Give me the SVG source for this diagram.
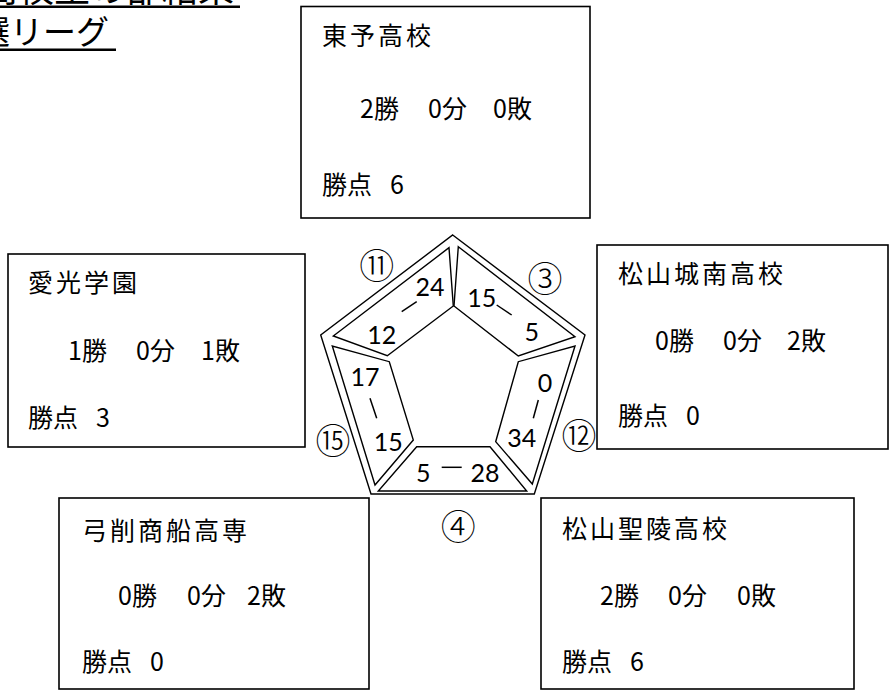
<svg xmlns="http://www.w3.org/2000/svg" width="892" height="691" viewBox="0 0 892 691">
<style>
.box{fill:#fff;stroke:#000;stroke-width:1.6}
.jp{font-family:"Noto Sans CJK JP","Noto Sans CJK SC",sans-serif;font-size:25px;fill:#000}
.name{letter-spacing:3px}
.pent{fill:none;stroke:#000;stroke-width:1.4;stroke-linejoin:miter}
.sc{font-family:Lato,"Liberation Sans",sans-serif;font-size:25px;fill:#000;text-anchor:middle}
.dash{stroke:#000;stroke-width:1.5}
.circ{font-family:"Noto Sans CJK JP",sans-serif;font-size:35px;font-weight:300;fill:#000;text-anchor:middle}
.title{font-family:"Noto Sans CJK JP","Noto Sans CJK SC",sans-serif;fill:#000}
</style>
<rect width="892" height="691" fill="#fff"/>
<g id="title">
<text class="title" x="-18" y="2" font-size="36">高校生の部結果</text>
<rect x="0" y="5.5" width="240" height="2.5" fill="#000"/>
<text class="title" x="-56" y="44" font-size="33">予選リーグ</text>
<rect x="0" y="48.5" width="116" height="2.5" fill="#000"/>
</g>
<g id="toyo">
<rect class="box" x="301" y="6.5" width="289" height="211.5"/>
<text class="jp name" x="322" y="45">東予高校</text>
<text class="jp" y="118"><tspan x="360">2勝</tspan><tspan x="428">0分</tspan><tspan x="493">0敗</tspan></text>
<text class="jp" x="322" y="194">勝点<tspan x="390">6</tspan></text>
</g>
<g id="aiko">
<rect class="box" x="8" y="254" width="297" height="193"/>
<text class="jp name" x="28" y="292">愛光学園</text>
<text class="jp" y="360"><tspan x="68">1勝</tspan><tspan x="136">0分</tspan><tspan x="201">1敗</tspan></text>
<text class="jp" x="28" y="427">勝点<tspan x="96">3</tspan></text>
</g>
<g id="jonan">
<rect class="box" x="597" y="245" width="291" height="204"/>
<text class="jp name" x="618" y="283">松山城南高校</text>
<text class="jp" y="350"><tspan x="655">0勝</tspan><tspan x="723">0分</tspan><tspan x="787">2敗</tspan></text>
<text class="jp" x="618" y="425">勝点<tspan x="686">0</tspan></text>
</g>
<g id="yuge">
<rect class="box" x="59" y="498" width="310" height="191"/>
<text class="jp name" x="82" y="540">弓削商船高専</text>
<text class="jp" y="605"><tspan x="118">0勝</tspan><tspan x="187">0分</tspan><tspan x="247">2敗</tspan></text>
<text class="jp" x="82" y="671">勝点<tspan x="150">0</tspan></text>
</g>
<g id="seiryo">
<rect class="box" x="541" y="498" width="313" height="191"/>
<text class="jp name" x="562" y="538">松山聖陵高校</text>
<text class="jp" y="605"><tspan x="600">2勝</tspan><tspan x="668">0分</tspan><tspan x="737">0敗</tspan></text>
<text class="jp" x="562" y="671">勝点<tspan x="630">6</tspan></text>
</g>
<g id="connectors">
<polygon class="pent" points="452.7,235 585,335 534.3,494 371,494 320.7,335"/>
<polygon class="pent" points="333.3,336 449,247.7 453.3,306 387.3,355.7"/>
<polygon class="pent" points="458.3,246.7 575,336.7 518.3,356 454,306"/>
<polygon class="pent" points="575,346 532.3,484 495.7,441.7 518.3,361.7"/>
<polygon class="pent" points="526.7,491 378.3,491 416.7,446.7 490,446.7"/>
<polygon class="pent" points="375,485 332.3,346 389.3,361.7 413.3,440"/>
<text class="sc" x="430" y="295.5">24</text>
<text class="sc" x="381.7" y="344">12</text>
<line class="dash" x1="401.7" y1="311.7" x2="416.7" y2="301.7"/>
<text class="sc" x="481.7" y="307.3">15</text>
<text class="sc" x="531.7" y="340.7">5</text>
<line class="dash" x1="496.7" y1="305" x2="511.7" y2="315"/>
<text class="sc" x="545" y="392.3">0</text>
<text class="sc" x="521.7" y="447.3">34</text>
<line class="dash" x1="538.3" y1="400" x2="533.3" y2="418.3"/>
<text class="sc" x="423.3" y="482.3">5</text>
<text class="sc" x="485" y="482.3">28</text>
<line class="dash" x1="441.7" y1="467.3" x2="461.7" y2="467.3"/>
<text class="sc" x="365" y="385.7">17</text>
<text class="sc" x="388.3" y="450.7">15</text>
<line class="dash" x1="370" y1="398.3" x2="376.7" y2="418.3"/>
<text class="circ" x="376.7" y="278.5">⑪</text>
<text class="circ" x="545" y="291.5">③</text>
<text class="circ" x="579" y="448.5">⑫</text>
<text class="circ" x="333" y="453.5">⑮</text>
<text class="circ" x="458.3" y="540">④</text>
</g>
</svg>
